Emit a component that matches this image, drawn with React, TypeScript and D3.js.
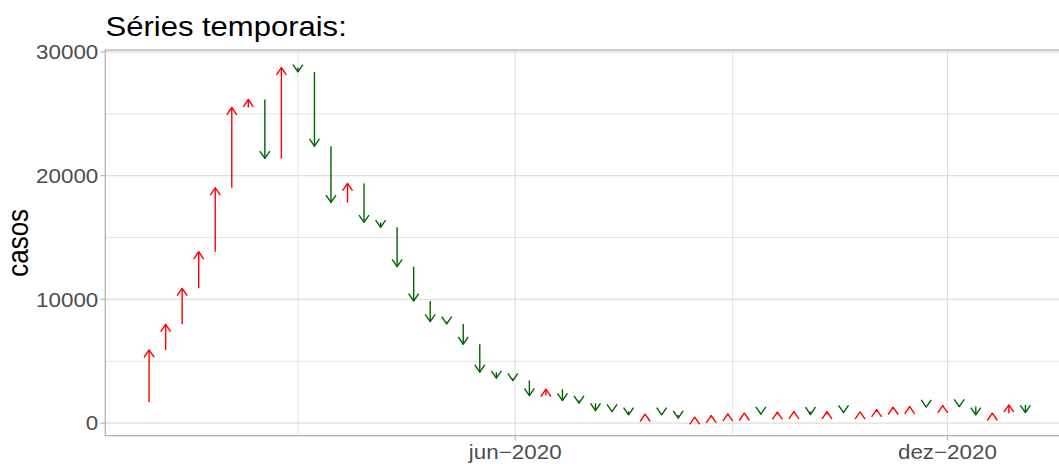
import React from "react";
import * as d3 from "d3";

// ---- data ----
const weekDates: string[] = [
  "2019-12-22", "2019-12-29", "2020-01-05", "2020-01-12", "2020-01-19", "2020-01-26",
  "2020-02-02", "2020-02-09", "2020-02-16", "2020-02-23", "2020-03-01", "2020-03-08",
  "2020-03-15", "2020-03-22", "2020-03-29", "2020-04-05", "2020-04-12", "2020-04-19",
  "2020-04-26", "2020-05-03", "2020-05-10", "2020-05-17", "2020-05-24", "2020-05-31",
  "2020-06-07", "2020-06-14", "2020-06-21", "2020-06-28", "2020-07-05", "2020-07-12",
  "2020-07-19", "2020-07-26", "2020-08-02", "2020-08-09", "2020-08-16", "2020-08-23",
  "2020-08-30", "2020-09-06", "2020-09-13", "2020-09-20", "2020-09-27", "2020-10-04",
  "2020-10-11", "2020-10-18", "2020-10-25", "2020-11-01", "2020-11-08", "2020-11-15",
  "2020-11-22", "2020-11-29", "2020-12-06", "2020-12-13", "2020-12-20", "2020-12-27",
  "2021-01-03",
];

const casos: number[] = [
  1695, 5916, 7990, 10896, 13850, 19016, 25504, 26150, 21388, 28733,
  28378, 22381, 17837, 19370, 16223, 15819, 12640, 9871, 8200, 8015,
  6376, 4116, 3632, 3438, 2228, 2744, 1824, 1614, 1017, 936,
  670, 726, 670, 404, 484, 613, 751, 807, 726, 888,
  936, 700, 936, 855, 910, 1100, 1290, 1340, 1300, 1420,
  1340, 670, 807, 1477, 855,
];

const yMajorTicks: number[] = [0, 10000, 20000, 30000];
const yMinorTicks: number[] = [5000, 15000, 25000];
const xMajorTicks: string[] = ["2020-06-01", "2020-12-01"];
const xMajorLabels: string[] = ["jun\u22122020", "dez\u22122020"];
const xMinorTicks: string[] = ["2020-03-01", "2020-09-01"];

const title = "Séries temporais:";
const yTitle = "casos";

const W = 1059;
const H = 464;
const panel = { left: 105.3, top: 50, bottom: 435.7, right: 1069.2 };
const SX = 1.12; // horizontal text stretch
const FONT = "'Liberation Sans', Arial, Helvetica, sans-serif";

const parse = d3.utcParse("%Y-%m-%d");

export default function App() {
  const dates = weekDates.map((d) => parse(d) as Date);
  const arrowIdx = d3.range(1, casos.length);

  // x: trained on the dates that carry an arrow, 5% expansion
  const xExt = d3.extent(arrowIdx.map((i) => dates[i])) as [Date, Date];
  const span = +xExt[1] - +xExt[0];
  const x = d3
    .scaleUtc()
    .domain([new Date(+xExt[0] - 0.05 * span), new Date(+xExt[1] + 0.05 * span)])
    .range([panel.left, panel.right]);

  const yExt = d3.extent(arrowIdx.map((i) => casos[i])) as [number, number];
  const ySpan = yExt[1] - yExt[0];
  const y = d3
    .scaleLinear()
    .domain([yExt[0] - 0.05 * ySpan, yExt[1] + 0.05 * ySpan])
    .range([panel.bottom, panel.top]);

  const grid = "#DEDEDE";
  const border = "#B3B3B3";
  const tickCol = "#4D4D4D";

  const headH = 7.3;
  const headW = 5;

  return (
    <div style={{ position: "absolute", left: 0, top: 0 }}>
      <svg width={W} height={H} style={{ display: "block", background: "#fff" }}>
        <defs>
          <clipPath id="pclip">
            <rect x={panel.left} y={panel.top} width={panel.right - panel.left} height={panel.bottom - panel.top} />
          </clipPath>
        </defs>
        {/* grid */}
        <g>
          {yMinorTicks.map((v) => (
            <line key={"ym" + v} x1={panel.left} x2={panel.right} y1={y(v)} y2={y(v)} stroke={grid} strokeWidth={0.8} />
          ))}
          {xMinorTicks.map((d) => (
            <line key={"xm" + d} x1={x(parse(d) as Date)} x2={x(parse(d) as Date)} y1={panel.top} y2={panel.bottom} stroke={grid} strokeWidth={0.8} />
          ))}
          {yMajorTicks.map((v) => (
            <line key={"yM" + v} x1={panel.left} x2={panel.right} y1={y(v)} y2={y(v)} stroke={grid} strokeWidth={1.1} />
          ))}
          {xMajorTicks.map((d) => (
            <line key={"xM" + d} x1={x(parse(d) as Date)} x2={x(parse(d) as Date)} y1={panel.top} y2={panel.bottom} stroke={grid} strokeWidth={1.1} />
          ))}
        </g>
        {/* arrows */}
        <g clipPath="url(#pclip)" fill="none" strokeWidth={1.4} strokeLinejoin="round">
          {arrowIdx.map((i) => {
            const xx = x(dates[i]);
            const y0 = y(casos[i - 1]);
            const y1 = y(casos[i]);
            const up = casos[i] > casos[i - 1];
            const col = up ? "#FF0000" : "#006400";
            const dir = up ? 1 : -1; // head extends below tip when up
            return (
              <g key={i} stroke={col}>
                <line x1={xx} x2={xx} y1={y0} y2={y1} />
                <polyline
                  points={`${xx - headW},${y1 + dir * headH} ${xx},${y1} ${xx + headW},${y1 + dir * headH}`}
                />
              </g>
            );
          })}
        </g>
        {/* panel border */}
        <rect
          x={panel.left}
          y={panel.top}
          width={panel.right - panel.left}
          height={panel.bottom - panel.top}
          fill="none"
          stroke={border}
          strokeWidth={1.3}
        />
        {/* y ticks */}
        {yMajorTicks.map((v) => (
          <g key={"yt" + v}>
            <line x1={panel.left - 4.8} x2={panel.left} y1={y(v)} y2={y(v)} stroke={border} strokeWidth={1.1} />
            <text
              transform={`translate(98.3,${y(v) + 7.2}) scale(${SX},1)`}
              textAnchor="end"
              fontFamily={FONT}
              fontSize={20}
              fill={tickCol}
            >
              {d3.format("d")(v)}
            </text>
          </g>
        ))}
        {/* x ticks */}
        {xMajorTicks.map((d, k) => {
          const xx = x(parse(d) as Date);
          return (
            <g key={"xt" + d}>
              <line x1={xx} x2={xx} y1={panel.bottom} y2={panel.bottom + 4.8} stroke={border} strokeWidth={1.1} />
              <text
                transform={`translate(${xx},458.5) scale(${SX},1)`}
                textAnchor="middle"
                fontFamily={FONT}
                fontSize={20}
                fill={tickCol}
              >
                {xMajorLabels[k]}
              </text>
            </g>
          );
        })}
        {/* axis title */}
        <text
          transform={`translate(27.5,${(panel.top + panel.bottom) / 2}) scale(${SX},1) rotate(-90)`}
          textAnchor="middle"
          fontFamily={FONT}
          fontSize={26}
          fill="#000"
        >
          {yTitle}
        </text>
        {/* title */}
        <text
          transform={`translate(105.5,35.5) scale(${SX},1)`}
          fontFamily={FONT}
          fontSize={27.7}
          fill="#000"
        >
          {title}
        </text>
      </svg>
    </div>
  );
}
